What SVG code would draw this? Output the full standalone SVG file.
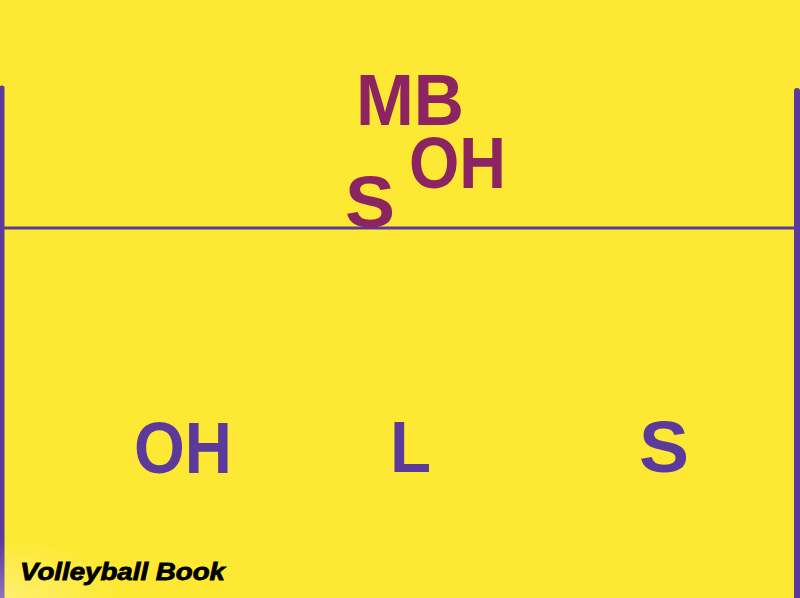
<svg xmlns="http://www.w3.org/2000/svg" width="800" height="598" viewBox="0 0 800 598">
<defs>
<style>
.lbl{font-family:"Liberation Sans",Arial,sans-serif;font-weight:bold;font-size:72px}
.opp{fill:#8C2462}
.own{fill:#5B3A9C}
.court{stroke:#5B3A9C;fill:none}
.wm{font-family:"Liberation Sans",Arial,sans-serif;font-weight:bold;font-style:italic;font-size:23px;fill:#000;stroke:#000;stroke-width:0.8}
</style>
<radialGradient id="glow" cx="0" cy="1" r="1">
<stop offset="0" stop-color="#ffffff" stop-opacity="0.3"/>
<stop offset="1" stop-color="#ffffff" stop-opacity="0"/>
</radialGradient>
</defs>
<rect width="800" height="598" fill="#FDE934"/>
<g id="connectors">
<line class="court" x1="2" y1="88" x2="2" y2="598" stroke-width="5" stroke-linecap="round"/>
<line class="court" x1="797" y1="91" x2="797" y2="598" stroke-width="6" stroke-linecap="round"/>
<line class="court" x1="0" y1="228" x2="800" y2="228" stroke-width="3"/>
</g>
<g id="opp-MB"><text class="lbl opp" x="356" y="125" textLength="108" lengthAdjust="spacingAndGlyphs">MB</text></g>
<g id="opp-OH"><text class="lbl opp" x="409" y="188" textLength="97" lengthAdjust="spacingAndGlyphs">OH</text></g>
<g id="opp-S"><text class="lbl opp" x="345" y="227" textLength="50" lengthAdjust="spacingAndGlyphs">S</text></g>
<g id="own-OH"><text class="lbl own" x="134" y="473" textLength="98" lengthAdjust="spacingAndGlyphs">OH</text></g>
<g id="own-L"><text class="lbl own" x="390" y="472" textLength="41" lengthAdjust="spacingAndGlyphs">L</text></g>
<g id="own-S"><text class="lbl own" x="639" y="472" textLength="50" lengthAdjust="spacingAndGlyphs">S</text></g>
<rect x="0" y="540" width="120" height="58" fill="url(#glow)"/>
<g id="watermark"><text class="wm" x="20" y="580" textLength="205" lengthAdjust="spacingAndGlyphs">Volleyball Book</text></g>
</svg>
